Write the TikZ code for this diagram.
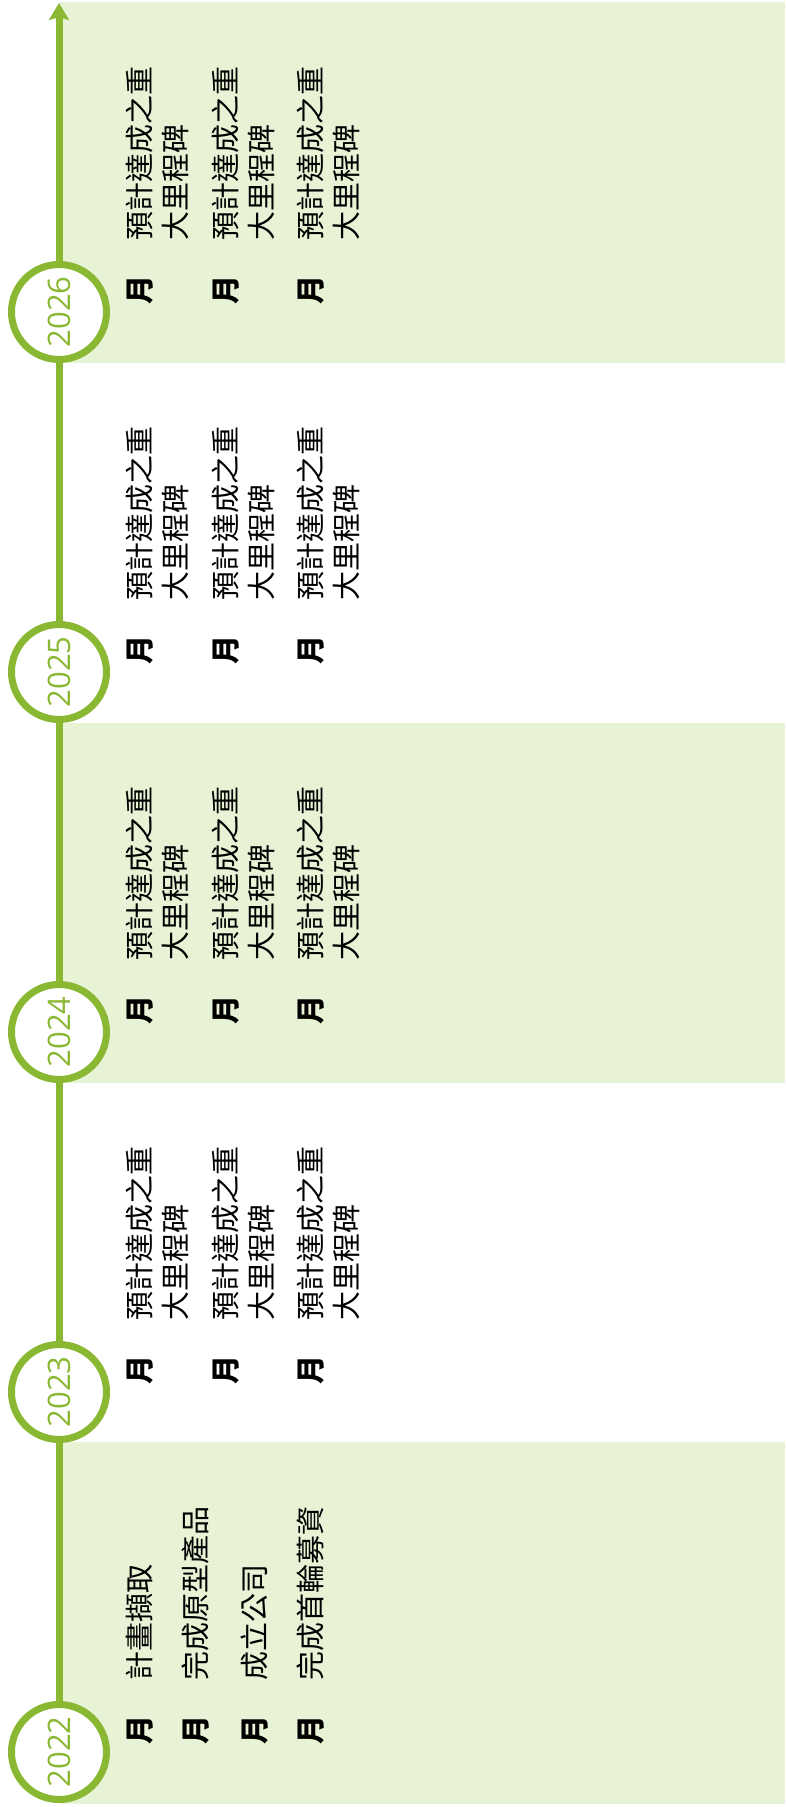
\documentclass[tikz,border=0pt]{standalone}
\usepackage{fontspec}
\newfontfamily\cjk{Noto Sans CJK TC}
\newfontfamily\yearfnt{Open Sans}
\usetikzlibrary{arrows.meta}
\definecolor{tlgreen}{RGB}{138,184,51}
\definecolor{bandgreen}{RGB}{232,242,213}
\begin{document}
\begin{tikzpicture}[x=1pt,y=1pt,
  band/.style={fill=bandgreen, draw=none},
  tl/.style={draw=tlgreen, line width=7pt},
  yearc/.style={circle, draw=tlgreen, line width=7pt, fill=white, minimum size=95pt, inner sep=0pt, text=tlgreen, font=\yearfnt\fontsize{31}{31}\selectfont, rotate=90},
  lbl/.style={rotate=90, anchor=base west, inner sep=0pt, font=\cjk\fontsize{29}{35}\selectfont},
  mon/.style={rotate=90, anchor=base, inner sep=0pt, font=\cjk\bfseries\fontsize{29}{35}\selectfont},
]
\useasboundingbox (0,0) rectangle (785,1807);
% bands
\fill[band] (60,1444) rectangle (785,1805);
\fill[band] (60,724) rectangle (785,1084);
\fill[band] (60,3) rectangle (785,365);
% year circles
\node[yearc] (c22) at (59,55) {2022};
\node[yearc] (c23) at (59,415) {2023};
\node[yearc] (c24) at (59,775) {2024};
\node[yearc] (c25) at (59,1135) {2025};
\node[yearc] (c26) at (59,1495) {2026};
\coordinate (top) at (59,1804);
% timeline
\draw[tl] (c22) -- (c23);
\draw[tl] (c23) -- (c24);
\draw[tl] (c24) -- (c25);
\draw[tl] (c25) -- (c26);
\draw[tl, -{Stealth[length=17pt, width=20pt, inset=3pt]}] (c26) -- (top);
% 2022 entries
\node[mon] (m22-1) at (150,77) {月};
\node[mon] (m22-2) at (206,77) {月};
\node[mon] (m22-3) at (265,77) {月};
\node[mon] (m22-4) at (321,77) {月};
\node[lbl] (t22-1) at (150,126) {計畫擷取};
\node[lbl] (t22-2) at (206,126) {完成原型產品};
\node[lbl] (t22-3) at (265,126) {成立公司};
\node[lbl] (t22-4) at (321,126) {完成首輪募資};
% other years
\foreach \yr/\cy in {23/415, 24/775, 25/1135, 26/1495}{
  \foreach \cx [count=\i] in {150,236,321}{
    \node[mon] (m\yr-\i) at (\cx,\cy+22) {月};
    \node[lbl] (a\yr-\i) at (\cx,\cy+71) {預計達成之重};
    \node[lbl] (b\yr-\i) at (\cx+36,\cy+71) {大里程碑};
  }
}
\end{tikzpicture}
\end{document}
